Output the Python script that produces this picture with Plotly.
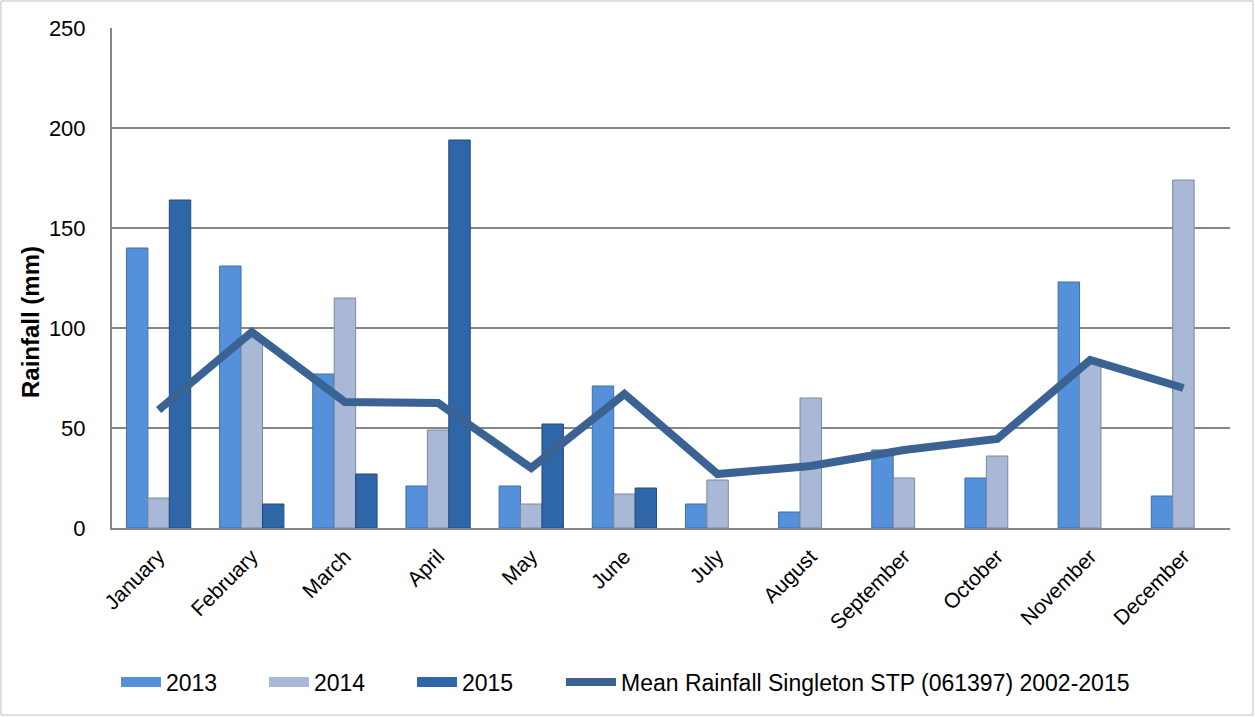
import plotly.graph_objects as go

months = ["January", "February", "March", "April", "May", "June",
          "July", "August", "September", "October", "November", "December"]
rain_2013 = [140, 131, 77, 21, 21, 71, 12, 8, 39, 25, 123, 16]
rain_2014 = [15, 95, 115, 49, 12, 17, 24, 65, 25, 36, 82, 174]
rain_2015 = [164, 12, 27, 194, 52, 20, None, None, None, None, None, None]
mean_rain = [59, 98, 63, 62.5, 30, 67, 27, 31, 39, 44.5, 84, 70]

C2013 = "#5591DA"
C2014 = "#A9B8D6"
C2015 = "#2F66A8"
LINE = "#3A6393"
FONT = "Liberation Sans, Arial, sans-serif"

W = 1230 - 112
H = 528 - 28

fig = go.Figure()

bars = [("2013", rain_2013, C2013, "#3E6FAE", "legend"),
        ("2014", rain_2014, C2014, "#7A87A0", "legend2"),
        ("2015", rain_2015, C2015, "#1F4A80", "legend3")]
for name, vals, col, edge, lg in bars:
    fig.add_trace(go.Bar(x=months, y=vals, name=name, showlegend=False,
                         marker=dict(color=col, line=dict(color=edge, width=1))))
    # wide flat legend key like the original's
    fig.add_trace(go.Scatter(x=[None], y=[None], mode="lines", name=name, legend=lg,
                             line=dict(color=col, width=14)))

fig.add_trace(go.Scatter(x=months, y=mean_rain, mode="lines", legend="legend4",
                         name="Mean Rainfall Singleton STP (061397) 2002-2015",
                         line=dict(color=LINE, width=8)))

fig.add_shape(type="rect", xref="paper", yref="paper",
              x0=-(112 - 1) / W, x1=1 + (1253 - 1230) / W,
              y0=-(715 - 528) / H, y1=1 + (28 - 1) / H,
              line=dict(color="#BFBFBF", width=1), fillcolor="rgba(0,0,0,0)")

fig.add_annotation(text="<b>Rainfall (mm)</b>", textangle=-90, showarrow=False,
                   xref="paper", yref="paper", x=(30 - 112) / W, y=(528 - 322) / H,
                   xanchor="center", yanchor="middle", font=dict(size=24))


def leg(x_text, iw):
    return dict(orientation="h", x=(x_text - iw - 12 - 112) / W, xanchor="left",
                y=-(682 - 528) / H, yanchor="middle", itemwidth=iw,
                font=dict(size=23), bgcolor="rgba(0,0,0,0)")


fig.update_layout(
    width=1255, height=717,
    margin=dict(l=112, r=25, t=28, b=189, autoexpand=False),
    plot_bgcolor="white", paper_bgcolor="white",
    barmode="group", bargap=0.31, bargroupgap=0,
    font=dict(family=FONT, size=20, color="black"),
    xaxis=dict(tickangle=-45, tickfont=dict(size=21), showline=True, automargin=False,
               linecolor="#868686", linewidth=2, ticks="", showgrid=False,
               ticklabelstandoff=6),
    yaxis=dict(range=[0, 250], dtick=50, showgrid=True, gridcolor="#868686",
               gridwidth=1.5, showline=True, linecolor="#868686", linewidth=2,
               tickfont=dict(size=22), ticks="", zeroline=False, automargin=False,
               ticklabelstandoff=20),
    legend=leg(168, 40),
    legend2=leg(316, 40),
    legend3=leg(464, 40),
    legend4=leg(623, 50),
    showlegend=True,
)

fig.write_html("out.html", config={"displayModeBar": False},
               post_script="document.body.style.margin='0';")
